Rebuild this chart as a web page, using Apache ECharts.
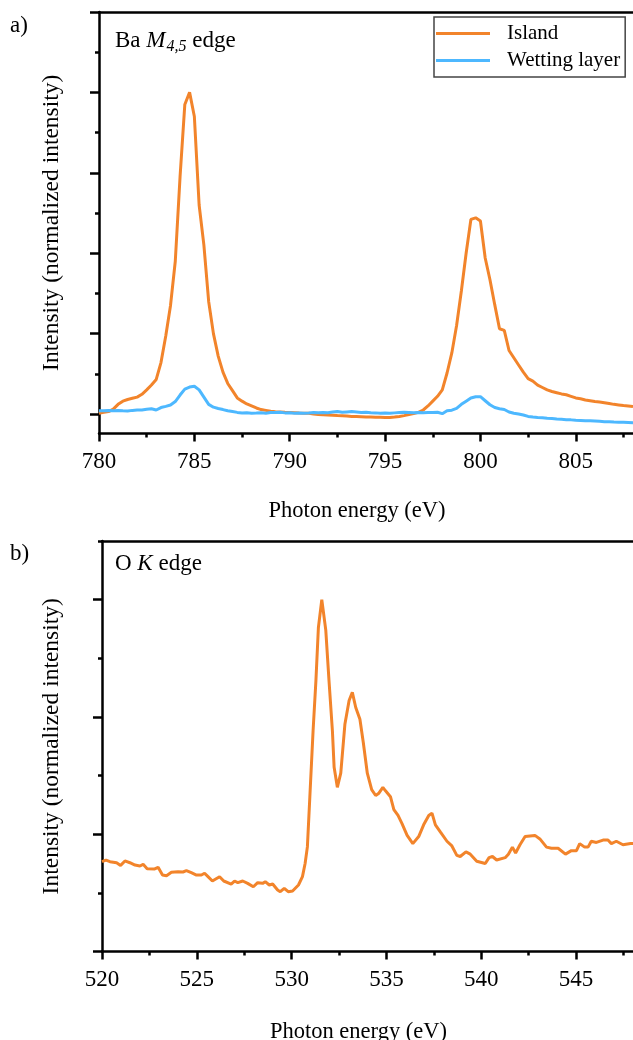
<!DOCTYPE html>
<html><head><meta charset="utf-8">
<script src="https://cdn.jsdelivr.net/npm/echarts@6/dist/echarts.min.js"></script>
<style>html,body{margin:0;padding:0;background:#fff}#c{width:633px;height:1040px}</style>
</head><body><div id="c"></div>
<script>
// ---------- Panel a) Ba M4,5 edge ----------
const baEnergy = [780,780.25,780.5,780.75,781,781.25,781.5,781.75,782,782.25,782.5,782.75,783,783.25,783.5,783.75,784,784.25,784.5,784.75,785,785.25,785.5,785.75,786,786.25,786.5,786.75,787,787.25,787.5,787.75,788,788.25,788.5,788.75,789,789.25,789.5,789.75,790,790.25,790.5,790.75,791,791.25,791.5,791.75,792,792.25,792.5,792.75,793,793.25,793.5,793.75,794,794.25,794.5,794.75,795,795.25,795.5,795.75,796,796.25,796.5,796.75,797,797.25,797.5,797.75,798,798.25,798.5,798.75,799,799.25,799.5,799.75,800,800.25,800.5,800.75,801,801.25,801.5,801.75,802,802.25,802.5,802.75,803,803.25,803.5,803.75,804,804.25,804.5,804.75,805,805.25,805.5,805.75,806,806.25,806.5,806.75,807,807.25,807.5,807.75,808];
const island = [0.01,0.02,0.03,0.06,0.12,0.16,0.18,0.195,0.21,0.245,0.30,0.36,0.43,0.64,0.97,1.35,1.90,2.95,3.85,4.00,3.70,2.60,2.10,1.40,1.00,0.72,0.52,0.38,0.29,0.20,0.16,0.125,0.10,0.075,0.055,0.045,0.035,0.028,0.025,0.022,0.02,0.016,0.012,0.01,0.008,0.0,-0.005,-0.01,-0.013,-0.016,-0.02,-0.023,-0.026,-0.03,-0.032,-0.034,-0.036,-0.038,-0.04,-0.041,-0.042,-0.042,-0.038,-0.03,-0.02,-0.008,0.005,0.02,0.05,0.10,0.16,0.22,0.30,0.51,0.76,1.10,1.53,2.00,2.42,2.44,2.40,1.94,1.67,1.36,1.06,1.04,0.79,0.70,0.61,0.52,0.44,0.41,0.36,0.33,0.30,0.28,0.265,0.25,0.24,0.22,0.20,0.19,0.175,0.165,0.155,0.148,0.14,0.13,0.12,0.113,0.105,0.10,0.092];
const wetting = [0.04,0.04,0.045,0.04,0.045,0.04,0.037,0.045,0.05,0.05,0.06,0.066,0.05,0.08,0.095,0.112,0.155,0.236,0.31,0.335,0.345,0.30,0.21,0.12,0.085,0.068,0.055,0.04,0.03,0.02,0.012,0.015,0.01,0.012,0.015,0.01,0.018,0.02,0.021,0.014,0.016,0.01,0.012,0.008,0.012,0.018,0.015,0.02,0.016,0.024,0.03,0.022,0.026,0.03,0.025,0.02,0.022,0.016,0.014,0.01,0.012,0.009,0.014,0.018,0.022,0.02,0.016,0.018,0.016,0.018,0.02,0.022,0.004,0.04,0.048,0.07,0.12,0.16,0.20,0.215,0.215,0.165,0.115,0.08,0.065,0.056,0.025,0.01,0.0,-0.012,-0.03,-0.038,-0.044,-0.047,-0.052,-0.056,-0.062,-0.066,-0.07,-0.073,-0.077,-0.08,-0.083,-0.085,-0.088,-0.091,-0.095,-0.097,-0.1,-0.102,-0.104,-0.106,-0.108];
const baTickLabels = [780,785,790,795,800,805];
const baMinorTicks = [782.5,787.5,792.5,797.5,802.5,807.5];

// ---------- Panel b) O K edge ----------
const oEnergy = [520.0,520.21,520.42,520.77,520.98,521.21,521.47,521.74,522.0,522.17,522.38,522.78,522.96,523.19,523.4,523.66,524.01,524.27,524.45,524.71,524.98,525.24,525.41,525.59,525.82,526.2,526.42,526.81,526.99,527.16,527.42,527.68,527.98,528.21,528.47,528.61,528.82,529.0,529.26,529.4,529.61,529.82,530.05,530.36,530.57,530.71,530.83,530.96,531.13,531.28,531.41,531.59,531.8,531.97,532.15,532.24,532.41,532.59,532.81,533.03,533.2,533.38,533.6,533.78,533.99,534.22,534.43,534.6,534.81,534.95,535.21,535.39,535.61,535.82,536.09,536.39,536.7,536.96,537.23,537.4,537.58,537.84,538.19,538.45,538.71,538.89,539.19,539.42,539.76,540.21,540.41,540.59,540.81,541.26,541.43,541.64,541.81,542.04,542.31,542.83,543.09,543.44,543.7,544.05,544.44,544.75,545.02,545.19,545.45,545.63,545.8,546.07,546.42,546.68,546.86,547.12,547.47,547.87,548.0];
const oIsland = [0.766,0.78,0.766,0.757,0.734,0.772,0.757,0.737,0.729,0.743,0.706,0.704,0.718,0.652,0.646,0.675,0.68,0.678,0.689,0.672,0.652,0.652,0.667,0.638,0.601,0.638,0.601,0.575,0.601,0.587,0.601,0.581,0.552,0.587,0.581,0.595,0.567,0.575,0.524,0.51,0.539,0.51,0.516,0.567,0.638,0.75,0.892,1.319,1.88,2.31,2.76,3.0,2.74,2.31,1.88,1.57,1.4,1.52,1.94,2.14,2.21,2.08,1.98,1.78,1.52,1.38,1.33,1.35,1.4,1.37,1.32,1.21,1.16,1.09,0.99,0.92,0.98,1.08,1.16,1.18,1.08,1.02,0.94,0.9,0.82,0.81,0.85,0.83,0.77,0.75,0.8,0.81,0.78,0.8,0.83,0.89,0.84,0.91,0.98,0.99,0.96,0.89,0.88,0.88,0.83,0.86,0.86,0.92,0.89,0.89,0.94,0.93,0.95,0.95,0.92,0.94,0.91,0.92,0.92];
const oTickLabels = [520,525,530,535,540,545];
const oMinorTicks = [522.5,527.5,532.5,537.5,542.5,547.5];

const yMajorA = [0,1,2,3,4,5];
const yMinorA = [0.5,1.5,2.5,3.5,4.5];
const yMajorB = [0,1,2,3];
const yMinorB = [0.5,1.5,2.5,3.5];

const ORANGE = '#F2842B';
const BLUE = '#4DB8FF';
const FONT = 'Liberation Serif';
const zip = (xs, ys) => xs.map((x, i) => [x, ys[i]]);

const axLine = { show: true, onZero: false, lineStyle: { color: '#000', width: 2.5 } };
const noLine = { show: false, onZero: false };

function xAxesFor(g, min, max, labels, minors, gap) {
  return [
    { gridIndex: g, type: 'value', min, max, position: 'bottom',
      axisLine: axLine, splitLine: { show: false },
      axisTick: { show: true, customValues: labels, length: 8, lineStyle: { color: '#000', width: 2.5 } },
      axisLabel: { show: true, customValues: labels, margin: 17, color: '#000', fontFamily: FONT, fontSize: 23 },
      name: 'Photon energy (eV)', nameLocation: 'middle', nameGap: gap,
      nameTextStyle: { color: '#000', fontFamily: FONT, fontSize: 22.5, padding: [0, 18, 0, 0] } },
    { gridIndex: g, type: 'value', min, max, position: 'bottom',
      axisLine: noLine, splitLine: { show: false },
      axisTick: { show: true, customValues: minors, length: 4, lineStyle: { color: '#000', width: 2.5 } },
      axisLabel: { show: false } },
    { gridIndex: g, type: 'value', min, max, position: 'top',
      axisLine: axLine, splitLine: { show: false }, axisTick: { show: false }, axisLabel: { show: false } }
  ];
}
function yAxesFor(g, min, max, majors, minors, gap) {
  return [
    { gridIndex: g, type: 'value', min, max, position: 'left',
      axisLine: axLine, splitLine: { show: false },
      axisTick: { show: true, customValues: majors, length: 9, lineStyle: { color: '#000', width: 2.5 } },
      axisLabel: { show: false },
      name: 'Intensity (normalized intensity)', nameLocation: 'middle', nameGap: gap,
      nameTextStyle: { color: '#000', fontFamily: FONT, fontSize: 23.5 } },
    { gridIndex: g, type: 'value', min, max, position: 'left',
      axisLine: noLine, splitLine: { show: false },
      axisTick: { show: true, customValues: minors, length: 4, lineStyle: { color: '#000', width: 2.5 } },
      axisLabel: { show: false } }
  ];
}

const chart = echarts.init(document.getElementById('c'), null, { renderer: 'canvas' });
chart.setOption({
  animation: false,
  backgroundColor: '#fff',
  grid: [
    { left: 99, right: 0, top: 12, height: 421.5, outerBoundsMode: 'none', containLabel: false },
    { left: 102, right: 0, top: 541, height: 410.5, outerBoundsMode: 'none', containLabel: false }
  ],
  xAxis: [].concat(xAxesFor(0, 780, 808, baTickLabels, baMinorTicks, 66), xAxesFor(1, 520, 548, oTickLabels, oMinorTicks, 69)),
  yAxis: [].concat(yAxesFor(0, -0.2425, 5, yMajorA, yMinorA, 35), yAxesFor(1, 0, 3.5, yMajorB, yMinorB, 38)),
  legend: {
    data: ['Island', 'Wetting layer'],
    orient: 'vertical', left: 434, top: 17,
    padding: [6, 5, 6, 2], itemGap: 6,
    itemWidth: 54, itemHeight: 3, icon: 'rect',
    borderColor: '#444', borderWidth: 1.5, backgroundColor: '#fff',
    formatter: n => '{t|' + n + '}',
    textStyle: { color: '#000', fontFamily: FONT, fontSize: 21,
      rich: { t: { fontFamily: FONT, fontSize: 21, lineHeight: 21, padding: [0, 0, 0, 12], color: '#000' } } }
  },
  series: [
    { name: 'Island', type: 'line', xAxisIndex: 0, yAxisIndex: 0, data: zip(baEnergy, island),
      showSymbol: false, lineStyle: { color: ORANGE, width: 3 }, itemStyle: { color: ORANGE } },
    { name: 'Wetting layer', type: 'line', xAxisIndex: 0, yAxisIndex: 0, data: zip(baEnergy, wetting),
      showSymbol: false, lineStyle: { color: BLUE, width: 3 }, itemStyle: { color: BLUE } },
    { name: 'O K Island', type: 'line', xAxisIndex: 3, yAxisIndex: 2, data: zip(oEnergy, oIsland),
      showSymbol: false, lineStyle: { color: ORANGE, width: 3 }, itemStyle: { color: ORANGE } }
  ],
  graphic: [
    { type: 'text', left: 10, top: 14, style: { text: 'a)', font: '23px "Liberation Serif"', fill: '#000' } },
    { type: 'text', left: 10, top: 542, style: { text: 'b)', font: '23px "Liberation Serif"', fill: '#000' } },
    { type: 'text', left: 115, top: 29, style: {
        text: '{n|Ba }{i|M}{s|4,5}{n| edge}',
        rich: {
          n: { fontFamily: FONT, fontSize: 23, fill: '#000', lineHeight: 26, verticalAlign: 'bottom' },
          i: { fontFamily: FONT, fontSize: 23, fontStyle: 'italic', fill: '#000', lineHeight: 26, verticalAlign: 'bottom' },
          s: { fontFamily: FONT, fontSize: 16, fontStyle: 'italic', fill: '#000', lineHeight: 18, verticalAlign: 'bottom', padding: [0, 0, -3, 1] }
        } } },
    { type: 'text', left: 115, top: 552, style: {
        text: '{n|O }{i|K}{n| edge}',
        rich: {
          n: { fontFamily: FONT, fontSize: 23, fill: '#000', lineHeight: 26 },
          i: { fontFamily: FONT, fontSize: 23, fontStyle: 'italic', fill: '#000', lineHeight: 26 }
        } } }
  ]
});
</script></body></html>
